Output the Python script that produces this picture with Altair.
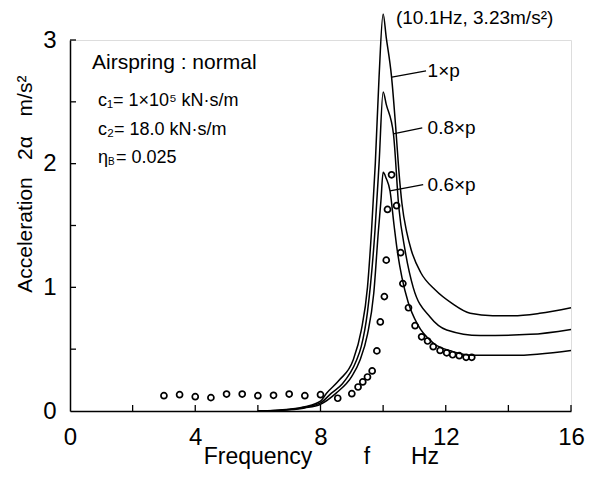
import altair as alt
import pandas as pd

FONT = "Liberation Sans"

# ---- calculated response curves ----
f_1p = [6.0, 6.5, 7.0, 7.5, 8.0, 8.2, 8.6, 9.04, 9.3, 9.5, 9.63, 9.75, 9.87, 10.0,
        10.1, 10.27, 10.4, 10.5, 10.6, 10.75, 10.9, 11.2, 11.66, 12.2, 12.78, 13.5, 14.15, 15.0, 16.0]
a_1p = [0.0, 0.005, 0.015, 0.035, 0.08, 0.145, 0.25, 0.41, 0.65, 1.0, 1.46, 2.0, 2.70, 3.21,
        3.02, 2.70, 2.3, 1.95, 1.68, 1.45, 1.30, 1.12, 0.98, 0.87, 0.79, 0.77, 0.77, 0.79, 0.835]

f_08p = [6.0, 6.5, 7.0, 7.5, 8.0, 8.35, 8.7, 9.15, 9.3, 9.5, 9.74, 9.87, 10.0,
         10.1, 10.33, 10.5, 10.7, 10.96, 11.5, 12.03, 13.1, 14.7, 16.0]
a_08p = [0.0, 0.004, 0.012, 0.03, 0.065, 0.145, 0.22, 0.41, 0.52, 0.8, 1.46, 2.0, 2.58,
         2.48, 2.24, 1.65, 1.3, 1.0, 0.76, 0.655, 0.61, 0.62, 0.66]

f_06p = [6.0, 6.5, 7.0, 7.5, 8.0, 8.5, 9.0, 9.26, 9.5, 9.7, 9.85, 9.93, 10.0,
         10.1, 10.22, 10.35, 10.45, 10.6, 10.8, 11.1, 11.6, 12.23, 12.88, 14.15, 16.0]
a_06p = [0.0, 0.003, 0.01, 0.025, 0.055, 0.145, 0.28, 0.41, 0.62, 0.95, 1.46, 1.7, 1.93,
         1.88, 1.78, 1.5, 1.3, 1.08, 0.88, 0.7, 0.55, 0.48, 0.45, 0.45, 0.49]

# ---- measured points ----
f_meas = [3.0, 3.5, 4.0, 4.5, 5.0, 5.5, 6.0, 6.5, 7.0, 7.5, 8.0, 8.55, 9.0, 9.2, 9.35, 9.5,
          9.65, 9.8, 9.91, 10.04, 10.1, 10.14, 10.27, 10.43, 10.56, 10.63, 10.81, 11.02,
          11.23, 11.42, 11.6, 11.82, 12.03, 12.22, 12.43, 12.65, 12.83]
a_meas = [0.124, 0.132, 0.116, 0.108, 0.137, 0.137, 0.124, 0.127, 0.137, 0.124, 0.132, 0.103,
          0.14, 0.194, 0.235, 0.275, 0.324, 0.486, 0.72, 0.925, 1.22, 1.63, 1.91, 1.66, 1.28,
          1.03, 0.835, 0.69, 0.60, 0.566, 0.52, 0.49, 0.47, 0.455, 0.447, 0.434, 0.434]

# ---- axes ----
x_labels = [0, 4, 8, 12, 16]
y_labels = [0, 1, 2, 3]
x_ticks = [2, 4, 6, 8, 10, 12, 14, 16]
y_ticks = [0.5, 1.0, 1.5, 2.0, 2.5, 3.0]

# ---- annotations ----
curve_names = ["1×p", "0.8×p", "0.6×p"]
label_f = [11.42, 11.42, 11.42]
label_a = [2.75, 2.29, 1.83]
lead_f0 = [10.28, 10.32, 10.22]
lead_a0 = [2.70, 2.24, 1.78]
lead_f1 = [11.37, 11.25, 11.28]
lead_a1 = [2.75, 2.29, 1.83]
peak_text = ["(10.1Hz, 3.23m/s²)"]
peak_f = [10.41]
peak_a = [3.18]

W, H = 501, 371

curves = pd.concat([
    pd.DataFrame({"f": f_1p, "a": a_1p, "s": "1×p"}),
    pd.DataFrame({"f": f_08p, "a": a_08p, "s": "0.8×p"}),
    pd.DataFrame({"f": f_06p, "a": a_06p, "s": "0.6×p"}),
])
meas = pd.DataFrame({"f": f_meas, "a": a_meas})

xs = alt.Scale(domain=[0, 16], nice=False)
ys = alt.Scale(domain=[0, 3], nice=False)

x_axis = alt.Axis(values=x_labels, title=None, ticks=False, tickSize=0, grid=False,
                  labelFontSize=24, labelFont=FONT, labelColor="black", labelPadding=14,
                  labelFlush=False, domainColor="black", domainWidth=1.5, format="d")
y_axis = alt.Axis(values=y_labels, title=None, ticks=False, tickSize=0, grid=False,
                  labelFontSize=24, labelFont=FONT, labelColor="black", labelPadding=14,
                  labelFlush=False, domainColor="black", domainWidth=1.5, format="d")

lines = alt.Chart(curves).mark_line(color="black", strokeWidth=1.5,
                                    interpolate="monotone").encode(
    x=alt.X("f:Q", scale=xs, axis=x_axis),
    y=alt.Y("a:Q", scale=ys, axis=y_axis),
    detail="s:N",
)

points = alt.Chart(meas).mark_point(shape="circle", filled=False, size=36, opacity=1,
                                    strokeWidth=1.7, color="black").encode(
    x=alt.X("f:Q", scale=xs), y=alt.Y("a:Q", scale=ys))

xt = alt.Chart(pd.DataFrame({"t": x_ticks})).mark_rule(color="black", strokeWidth=1.3).encode(
    x=alt.X("t:Q", scale=xs), y=alt.value(H), y2=alt.value(H - 6))
yt = alt.Chart(pd.DataFrame({"t": y_ticks})).mark_rule(color="black", strokeWidth=1.3).encode(
    y=alt.Y("t:Q", scale=ys), x=alt.value(0), x2=alt.value(6))

lead_df = pd.DataFrame({"f0": lead_f0, "a0": lead_a0, "f1": lead_f1, "a1": lead_a1})
leaders = alt.Chart(lead_df).mark_rule(color="black", strokeWidth=1.3).encode(
    x=alt.X("f0:Q", scale=xs), y=alt.Y("a0:Q", scale=ys), x2="f1:Q", y2="a1:Q")

lab_df = pd.DataFrame({"f": label_f, "a": label_a, "t": curve_names})
labels = alt.Chart(lab_df).mark_text(align="left", baseline="middle", fontSize=19,
                                     font=FONT, color="black").encode(
    x=alt.X("f:Q", scale=xs), y=alt.Y("a:Q", scale=ys), text="t:N")

peak_df = pd.DataFrame({"f": peak_f, "a": peak_a, "t": peak_text})
peak = alt.Chart(peak_df).mark_text(align="left", baseline="middle", fontSize=19,
                                    font=FONT, color="black").encode(
    x=alt.X("f:Q", scale=xs), y=alt.Y("a:Q", scale=ys), text="t:N")


def txt(s, x, y, size=18, angle=0, align="left", baseline="middle"):
    return alt.Chart(pd.DataFrame({"t": [s]})).mark_text(
        align=align, baseline=baseline, fontSize=size, font=FONT, color="black",
        angle=angle).encode(x=alt.value(x), y=alt.value(y), text="t:N")


texts = [
    txt("Airspring  :  normal", 22, 23, 21),
    txt("c₁= 1×10⁵ kN·s/m", 28, 61, 18),
    txt("c₂= 18.0  kN·s/m", 28, 90, 18),
    txt("η", 28, 118, 18),
    txt("B", 38, 122, 10),
    txt("= 0.025", 46, 118, 18),
    txt("Frequency", 188, 424, 23, align="center", baseline="alphabetic"),
    txt("f", 297, 424, 23, align="center", baseline="alphabetic"),
    txt("Hz", 355, 424, 23, align="center", baseline="alphabetic"),
    txt("Acceleration", -44, 195, 21, angle=270, align="center"),
    txt("2α", -44, 108, 21, angle=270, align="center"),
    txt("m/s²", -44, 56, 21, angle=270, align="center"),
]

chart = alt.layer(lines, points, xt, yt, leaders, labels, peak, *texts).properties(
    width=W, height=H,
    autosize=alt.AutoSizeParams(type="none"),
    padding={"left": 62, "top": 32, "right": 16, "bottom": 58},
).configure_view(stroke=None).configure(background="white")

chart.save("out.html", embed_options={"renderer": "svg", "actions": False})
